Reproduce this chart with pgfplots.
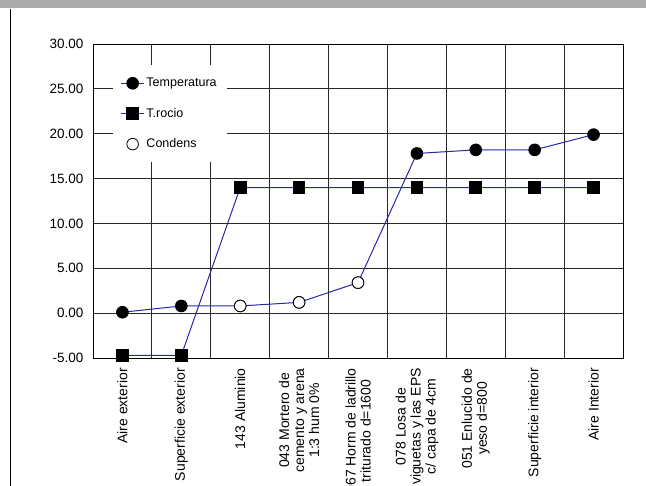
\documentclass[border=0pt]{standalone}
\usepackage{pgfplots}
\pgfplotsset{compat=1.18}
\usepackage{fontspec}
\setmainfont{Liberation Sans}
\definecolor{lineblue}{RGB}{40,40,170}
\definecolor{bargray}{RGB}{171,171,171}
\definecolor{gridc}{RGB}{40,40,40}
\begin{document}
\begin{tikzpicture}
\useasboundingbox (0,0) rectangle (646bp,486bp);
\clip (0,0) rectangle (646bp,486bp);
\fill[bargray] (0,478bp) rectangle (646bp,486bp);
\draw[black, line width=0.9bp] (10bp,0) -- (10bp,477bp);
\begin{axis}[
  at={(93bp,128bp)}, anchor=south west,
  scale only axis, width=530bp, height=314bp,
  xmin=-0.5, xmax=8.5, ymin=-5, ymax=30,
  ytick={-5,0,5,10,15,20,25,30},
  yticklabel={\pgfmathprintnumber[fixed,fixed zerofill,precision=2]{\tick}},
  /pgf/number format/assume math mode=true,
  yticklabel style={font=\fontsize{13.5bp}{15bp}\selectfont, xshift=-6bp},
  xtick={0,1,2,3,4,5,6,7,8},
  minor xtick={0.5,1.5,2.5,3.5,4.5,5.5,6.5,7.5},
  xticklabels={Aire exterior, Superficie exterior, 143 Aluminio,
    {043 Mortero de\\cemento y arena\\1:3 hum 0\%},
    {067 Horm de ladrillo\\triturado d=1600},
    {078 Losa de\\viguetas y las EPS\\c/ capa de 4cm},
    {051 Enlucido de\\yeso d=800},
    Superficie interior, Aire Interior},
  xticklabel style={rotate=90, anchor=east, align=center, inner sep=0pt,
    font=\fontsize{14bp}{15bp}\selectfont},
  xticklabel shift=10bp,
  major x tick style={draw=none},
  minor x tick style={draw=none},
  major y tick style={draw=none},
  ymajorgrids, xminorgrids,
  grid style={gridc, line width=0.8bp},
  axis line style={black, line width=0.9bp},
  legend style={at={(0.037,0.933)}, anchor=north west, draw=none, fill=white,
    font=\fontsize{12.5bp}{14bp}\selectfont, row sep=16bp, inner xsep=8bp, inner ysep=11bp},
  legend cell align=left,
  legend image code/.code={\draw[mark repeat=2,mark phase=2,#1] plot coordinates {(0cm,0cm) (0.4cm,0cm) (0.8cm,0cm)};},
  clip=false,
]
\addplot[lineblue, line width=1bp, mark=*, mark size=5.8bp, mark options={black, fill=black, solid}]
  coordinates {(0,0.1) (1,0.8) (2,0.8) (3,1.2) (4,3.4) (5,17.8) (6,18.2) (7,18.2) (8,19.9)};
\addlegendentry{Temperatura}
\addplot[lineblue, line width=1bp, mark=square*, mark size=5.8bp, mark options={black, fill=black, solid}]
  coordinates {(0,-4.7) (1,-4.7) (2,14.0) (3,14.0) (4,14.0) (5,14.0) (6,14.0) (7,14.0) (8,14.0)};
\addlegendentry{T.rocio}
\addplot[only marks, mark=*, mark size=5.8bp, mark options={black, fill=white, line width=0.8bp}]
  coordinates {(2,0.8) (3,1.2) (4,3.4)};
\addlegendentry{Condens}
\end{axis}
\end{tikzpicture}
\end{document}
